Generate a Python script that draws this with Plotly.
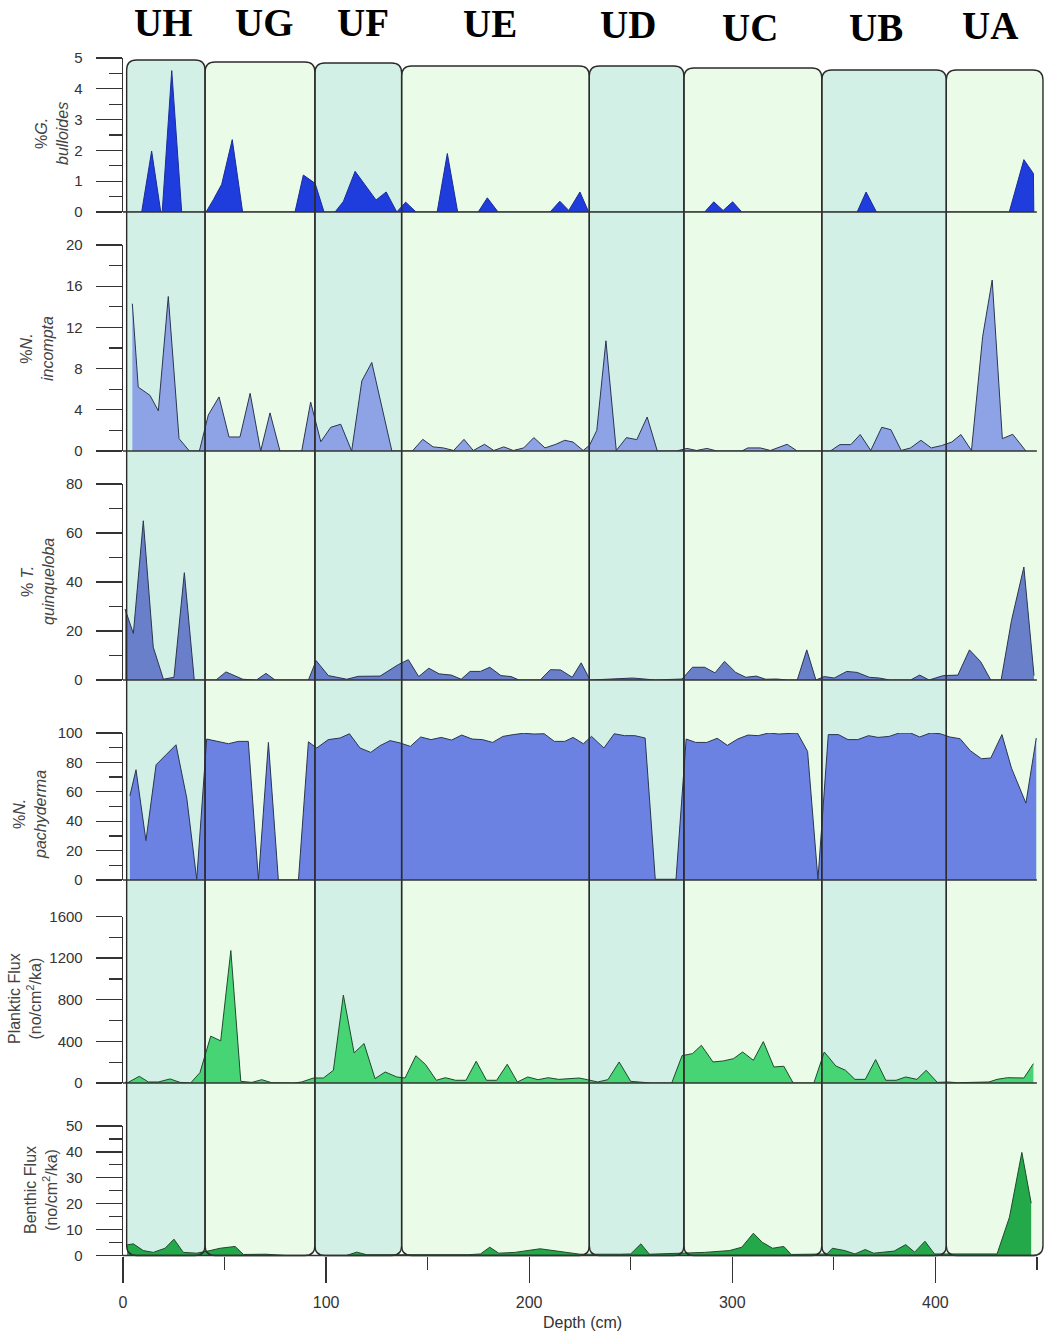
import plotly.graph_objects as go

W, H = 1045, 1334

# ---------------- data (depth in cm) ----------------
zone_names = ["UH", "UG", "UF", "UE", "UD", "UC", "UB", "UA"]
zone_edges = [1.8, 40.4, 94.5, 137.2, 229.6, 276.2, 344.1, 405.4, 453.0]
zone_label_depth = [19.7, 69.9, 118.2, 180.7, 248.6, 308.7, 370.8, 426.9]

gb_depth = [0, 9.2, 14.1, 18.6, 19.3, 24.0, 28.9, 40.9, 44.5, 48.6, 53.8, 58.9, 84.7, 88.8, 94.6, 99,
            104.4, 108.5, 114.3, 119.5, 124.6, 129.6, 134.8, 139.2, 144.3, 154.7, 159.7, 164.8, 174.9,
            179.4, 184.7, 210.3, 215.1, 219.5, 225, 229.3, 286.4, 290.9, 295.5, 300.2, 304.7, 361.5,
            365.9, 371, 436.4, 443.6, 448.3, 448.5]
gb_val = [0, 0, 1.98, 0, 0, 4.59, 0, 0, 0.4, 0.9, 2.35, 0, 0, 1.2, 0.93, 0,
          0, 0.34, 1.32, 0.85, 0.39, 0.65, 0, 0.32, 0, 0, 1.9, 0, 0,
          0.46, 0, 0, 0.35, 0.05, 0.65, 0, 0, 0.33, 0.05, 0.33, 0, 0,
          0.65, 0, 0, 1.7, 1.25, 0]

ni_depth = [4.6, 7.5, 13.3, 17.4, 22.3, 27.6, 32.7, 37.6, 42, 47.3, 52.2, 57.6, 62.6, 67.8, 72.4, 77.3,
            88, 92.4, 97.4, 102.3, 107.2, 112.6, 117.6, 122.5, 132.4, 142.5, 147.6, 152.7, 157.7,
            162.8, 167.9, 172.5, 178, 182.6, 187.5, 192.2, 197.3, 202.3, 207.8, 213.1, 217.5, 221.6,
            226.6, 229.7, 233.3, 237.8, 242.9, 247.9, 253, 258.1, 263.1, 272.5, 277.7, 282.4, 287.5,
            292.4, 304.7, 307.7, 313.8, 318.8, 327, 332, 348.3, 353, 358.4, 363, 368.2, 373.6, 378.1,
            383.2, 387.8, 392.9, 398, 403, 408.1, 412.6, 417.8, 423.3, 428, 433, 438.1, 444.6]
ni_val = [14.3, 6.2, 5.4, 3.9, 15.0, 1.2, 0, 0, 3.5, 5.25, 1.36, 1.36, 5.6, 0, 3.7, 0,
          0, 4.75, 0.9, 2.3, 2.6, 0, 6.8, 8.6, 0, 0, 1.13, 0.4, 0.3,
          0.05, 1.13, 0.05, 0.65, 0.05, 0.4, 0.05, 0.3, 1.3, 0.3, 0.65, 1.04, 0.87,
          0.05, 0.55, 2.0, 10.7, 0.05, 1.3, 1.1, 3.3, 0, 0, 0.25, 0.05, 0.25,
          0, 0, 0.3, 0.3, 0.05, 0.65, 0, 0, 0.62, 0.62, 1.6, 0.05, 2.3, 2.07,
          0.05, 0.3, 1.04, 0.3, 0.52, 0.87, 1.6, 0.05, 11.1, 16.6, 1.2, 1.62, 0]

tq_depth = [1, 5.1, 10, 14.9, 19.9, 25.1, 30.2, 35.1, 45.8, 50.7, 59, 65.7, 70.4, 74.9, 91.3, 95.1,
            101.1, 110.2, 115.9, 126.6, 135.6, 140.5, 145.6, 150.6, 155.7, 161.7, 166.5, 170.9, 176,
            180.6, 186.1, 191.1, 195, 205.4, 210.4, 215.5, 221.2, 225.6, 230, 242, 251, 258, 262,
            275.3, 280.4, 286.4, 291.5, 296.2, 301.7, 306.7, 311.8, 316.4, 321.9, 327, 332, 336.7,
            341.2, 345.3, 350.2, 356.4, 361.5, 367.5, 372.5, 377.5, 387.8, 392.3, 396.9, 404, 411.1,
            416.8, 422.3, 427.3, 432.4, 437.5, 443.6, 448.6]
tq_val = [29, 19, 65, 13.4, 0.3, 1.1, 43.8, 0, 0, 3.3, 0.3, 0, 2.7, 0, 0, 7.9,
          1.8, 0.3, 1.5, 1.6, 6.3, 8.3, 1.4, 4.8, 2.5, 2.0, 0.3, 3.5, 3.5,
          5.2, 1.8, 1.4, 0, 0, 4.2, 4.1, 1.1, 7, 0, 0.4, 0.8, 0.3, 0,
          0.4, 5.2, 5.2, 2.9, 7.6, 3.1, 1.1, 1.6, 0.3, 0.4, 0, 0, 12.3,
          0, 1.4, 0.8, 3.5, 3.1, 1.1, 0.8, 0, 0, 2.0, 0, 1.8, 2.0,
          12.3, 7.5, 0, 0, 24.3, 46.1, 1.8]

np_depth = [3.4, 6.4, 11.3, 16.3, 21.2, 26.1, 31.4, 36.3, 41.2, 51.9, 56.8, 61.7, 66.7, 71.6, 76.5,
            86.4, 91.3, 95.4, 101.1, 106.9, 111.5, 116.7, 122, 126.6, 131.5, 136.5, 141.5, 146.6,
            151.7, 156.7, 161.8, 166.8, 171.9, 177, 182, 187.1, 192.2, 197.3, 202.3, 207.4, 212.4,
            217.5, 221.6, 226.7, 230.7, 236.8, 241.9, 246.9, 252, 257.1, 262.1, 272.3, 277.3, 282,
            287.5, 292.6, 297.6, 302.7, 307.7, 312.8, 317.9, 322.9, 332.1, 337.1, 342.2, 347.3,
            352.3, 357, 361.8, 367.1, 371.8, 377.3, 382.2, 387.8, 392.3, 397.5, 402.4, 407.1, 412.2,
            417.2, 422.7, 427.3, 432.8, 437.5, 444.6, 449.7]
np_val = [57.3, 75, 26.8, 78.4, 85.2, 92, 55.7, 0.5, 95.9, 92.7, 94.3, 94.3, 0, 93.6, 0,
          0, 94, 89.8, 95.5, 96.6, 99.5, 89.8, 86.8, 91.4, 94.8, 93.2, 90.9, 97.3,
          95.5, 97, 95.2, 98.6, 95.9, 95.5, 93.6, 97.7, 98.9, 99.8, 99.3, 99.5, 94.3,
          94.3, 97, 92.7, 97.7, 89.8, 99.5, 98.2, 98.2, 96.6, 0.5, 0.5, 95.9, 93.6,
          93.6, 96.4, 91.6, 95.9, 98.6, 98.2, 100, 99.3, 100, 87.5, 0.5, 98.9,
          98.9, 95.5, 95.5, 98.2, 97, 97.7, 100, 100, 97.3, 100, 99.5, 97.3, 96.1,
          88, 82.5, 83, 98.9, 76.1, 52.3, 96.6]

pf_depth = [1, 2, 8, 12.5, 17.4, 23.2, 28.1, 33.3, 37.9, 43.2, 48.1, 53.1, 58, 63.5, 68.3, 73.2, 83.9,
            88, 93.8, 98.7, 103.6, 108.5, 113.8, 118.7, 124.1, 129.1, 134.8, 138.9, 144.2, 149,
            154.3, 158.7, 163.8, 168.9, 173.9, 179, 184, 189.2, 194.2, 199.3, 204.4, 209.4, 214.5,
            219.5, 224.6, 228.7, 233.7, 238.8, 244.3, 250, 260.1, 270.2, 275.3, 280.4, 284.8, 290.5,
            295.6, 300.6, 305.1, 310.4, 315.3, 320.5, 325.4, 330, 340.2, 345.3, 351, 355.8, 360.4,
            365.5, 370.6, 375.6, 380.7, 385.4, 390.9, 395.5, 401, 406, 411, 426.4, 430.4, 435.5,
            443.6, 448.3]
pf_val = [10, 0, 64, 10, 10, 39, 6, 0, 100, 450, 405, 1273, 16, 6, 32, 3, 0,
          10, 48, 48, 122, 845, 289, 379, 42, 106, 58, 48, 262, 177,
          26, 51, 26, 26, 209, 26, 26, 180, 10, 58, 32, 51, 35,
          42, 48, 32, 10, 32, 202, 16, 0, 0, 263, 282, 362, 202,
          212, 234, 298, 218, 398, 154, 161, 0, 0, 298, 164, 122, 35,
          35, 225, 26, 26, 58, 35, 122, 6, 10, 3, 10, 35, 51,
          48, 186]

bf_depth = [2, 5.1, 10, 14.9, 20.7, 25.1, 29.7, 36.3, 42.9, 47.8, 55.2, 59.3, 70.5, 80, 110, 115.1,
            120, 170, 176, 180.6, 185, 193, 205.4, 212.5, 219.5, 225, 245, 250, 255, 259.2, 286.4,
            298.6, 304.7, 310.4, 314.8, 319.9, 325.4, 329, 346.6, 349.3, 355.4, 360.4, 365.5, 369.6,
            379.7, 385.4, 389.8, 394.9, 399.6, 430.4, 436.5, 442.6, 447.2]
bf_val = [4.1, 4.5, 1.9, 1.2, 2.8, 6.3, 1.2, 0.9, 1.9, 2.8, 3.5, 0.4, 0.5, 0, 0, 1.3,
          0.3, 0.3, 0.6, 3.2, 0.9, 1.2, 2.6, 1.8, 1.2, 0.5, 0.5, 0.6, 4.5, 0.5, 1.2,
          1.9, 3.2, 8.6, 5.1, 2.8, 3.5, 0.4, 0.6, 2.8, 1.9, 0.6, 2.3, 0.9,
          1.7, 4.2, 1.3, 5.5, 0.6, 0.6, 14.8, 39.8, 20.2]

# ---------------- layout helpers (page pixel -> paper) ----------------
def py(p):
    return 1 - p / H


def px(p):
    return p / W


X0PX = 123
XMAX = 454

panels = [
    dict(d=gb_depth, v=gb_val, top=58, bot=212, rng=[0, 5], dtick=1, minor=0.5,
         fill="#1f3cdc", line="#1a2d9a",
         title="%<i>G.</i><br><i>bulloides</i>", tx=52, ty=134),
    dict(d=ni_depth, v=ni_val, top=245, bot=451, rng=[0, 20], dtick=4, minor=2,
         fill="#8ea3e6", line="#2a3550",
         title="%<i>N.</i><br><i>incompta</i>", tx=37, ty=349),
    dict(d=tq_depth, v=tq_val, top=484, bot=680, rng=[0, 80], dtick=20, minor=10,
         fill="#6a7fc9", line="#2a3550",
         title="% <i>T.</i><br><i>quinqueloba</i>", tx=38, ty=582),
    dict(d=np_depth, v=np_val, top=733, bot=880, rng=[0, 100], dtick=20, minor=10,
         fill="#6b82e3", line="#2a3550",
         title="%<i>N.</i><br><i>pachyderma</i>", tx=30, ty=815),
    dict(d=pf_depth, v=pf_val, top=916.5, bot=1083, rng=[0, 1600], dtick=400, minor=200,
         fill="#47d474", line="#1f4a2c",
         title="Planktic Flux<br>(no/cm<sup>2</sup>/ka)", tx=25, ty=999),
    dict(d=bf_depth, v=bf_val, top=1126, bot=1255.5, rng=[0, 50], dtick=10, minor=5,
         fill="#23a84a", line="#1f4a2c",
         title="Benthic Flux<br>(no/cm<sup>2</sup>/ka)", tx=41, ty=1190),
]

fig = go.Figure()
layout = dict(
    template="none",
    width=W, height=H, autosize=False,
    margin=dict(l=0, r=0, t=0, b=0, pad=0, autoexpand=False),
    paper_bgcolor="white", plot_bgcolor="rgba(0,0,0,0)",
    showlegend=False,
    font=dict(family="Liberation Sans, Arial, sans-serif", color="#333"),
)

axcol = "#333333"
shapes = []
annotations = []

# zone background boxes (rounded)
zone_top_px = [60, 62, 63, 66, 66, 68, 70, 70]
zone_bot_px = 1255.5
zone_cols = ["#d3f0e6", "#eafce8"]
rx = 10 / 2.031
ry = 10 / H
for i, name in enumerate(zone_names):
    x0, x1 = zone_edges[i], zone_edges[i + 1]
    yt, yb = py(zone_top_px[i]), py(zone_bot_px)
    path = (f"M {x0},{yb+ry} L {x0},{yt-ry} Q {x0},{yt} {x0+rx},{yt} "
            f"L {x1-rx},{yt} Q {x1},{yt} {x1},{yt-ry} L {x1},{yb+ry} "
            f"Q {x1},{yb} {x1-rx},{yb} L {x0+rx},{yb} Q {x0},{yb} {x0},{yb+ry} Z")
    shapes.append(dict(type="path", path=path, xref="x", yref="paper",
                       fillcolor=zone_cols[i % 2], line=dict(width=0), layer="below"))
    shapes.append(dict(type="path", path=path, xref="x", yref="paper",
                       fillcolor="rgba(0,0,0,0)", line=dict(color="#2b2b2b", width=1.4),
                       layer="above"))
    lab_y = [22, 22, 22, 23, 24.5, 28, 28, 25][i]
    annotations.append(dict(text=f"<b>{name}</b>", x=zone_label_depth[i], y=py(lab_y),
                            xref="x", yref="paper", showarrow=False,
                            xanchor="center", yanchor="middle",
                            font=dict(family="Liberation Serif, serif", size=39, color="#000")))

for k, p in enumerate(panels):
    yname = "y" if k == 0 else f"y{k+1}"
    akey = "yaxis" if k == 0 else f"yaxis{k+1}"
    fig.add_trace(go.Scatter(x=p["d"], y=p["v"], mode="lines", fill="tozeroy",
                             fillcolor=p["fill"], line=dict(color=p["line"], width=1),
                             xaxis="x", yaxis=yname, hoverinfo="skip"))
    layout[akey] = dict(
        domain=[py(p["bot"]), py(p["top"])], range=p["rng"], anchor="x", automargin=False,
        showgrid=False, zeroline=False, showline=True, linecolor=axcol, linewidth=1.3,
        ticks="outside", ticklen=26, tickwidth=1.3, tickcolor=axcol, dtick=p["dtick"],
        tick0=0, minor=dict(ticks="outside", ticklen=13, tickwidth=1.3, tickcolor=axcol,
                            dtick=p["minor"], tick0=0, showgrid=False),
        tickfont=dict(size=15, color="#333"), ticklabelstandoff=10, fixedrange=True,
    )
    # baseline
    shapes.append(dict(type="line", xref="x", yref="paper", x0=0, x1=450,
                       y0=py(p["bot"]), y1=py(p["bot"]),
                       line=dict(color=axcol, width=1.3), layer="above"))
    annotations.append(dict(text=p["title"], x=px(p["tx"]), y=py(p["ty"]),
                            xref="paper", yref="paper", showarrow=False, textangle=-90,
                            xanchor="center", yanchor="middle",
                            font=dict(size=16, color="#444")))

layout["xaxis"] = dict(
    domain=[px(X0PX), 1.0], range=[0, XMAX], anchor="y6", automargin=False,
    showgrid=False, zeroline=False, showline=False,
    ticks="outside", ticklen=26, tickwidth=1.3, tickcolor=axcol,
    tickvals=[0, 100, 200, 300, 400],
    minor=dict(ticks="outside", ticklen=13, tickwidth=1.3, tickcolor=axcol,
               tickvals=[50, 150, 250, 350, 450], showgrid=False),
    tickfont=dict(size=16, color="#333"), ticklabelstandoff=6, fixedrange=True,
)
annotations.append(dict(text="Depth (cm)", x=px(582), y=py(1322), xref="paper",
                        yref="paper", showarrow=False, xanchor="center", yanchor="middle",
                        font=dict(size=16, color="#333")))

layout["shapes"] = shapes
layout["annotations"] = annotations
fig.update_layout(**layout)
fig.write_html(
    "out.html",
    config={"displayModeBar": False, "staticPlot": True},
    post_script="document.body.style.margin='0';document.body.style.padding='0';"
                "document.documentElement.style.overflow='hidden';",
)
